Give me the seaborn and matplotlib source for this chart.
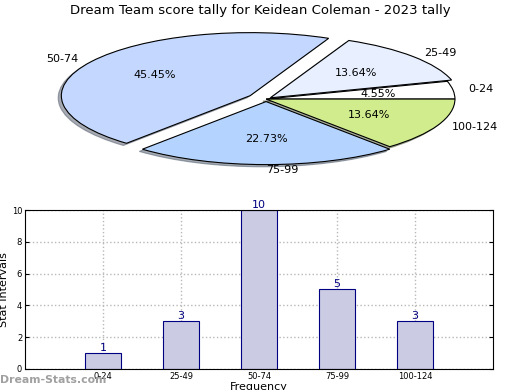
import seaborn as sns
import matplotlib
matplotlib.use("Agg")
import matplotlib.pyplot as plt

# score ranges and how many games fell in each
ranges = ["0-24", "25-49", "50-74", "75-99", "100-124"]
counts = [1, 3, 10, 5, 3]
pie_colors = ["#ffffff", "#e8f0ff", "#c4d8ff", "#b4d4ff", "#d0ec8c"]
explode = [0.0, 0.03, 0.1, 0.04, 0.0]

title = "Dream Team score tally for Keidean Coleman - 2023 tally"

sns.set_style("white")
plt.rcParams.update({
    "text.color": "black",
    "axes.labelcolor": "black",
    "xtick.color": "black",
    "ytick.color": "black",
})
fig = plt.figure(figsize=(5.2, 3.9), dpi=100)

# pie squashed into an ellipse
pie_ax = fig.add_axes([0.0577, 0.544, 0.908, 0.404])
pie_ax.pie(
    counts,
    labels=ranges,
    colors=pie_colors,
    explode=explode,
    autopct="%.2f%%",
    startangle=0,
    counterclock=True,
    labeldistance=1.08,
    shadow={"ox": -0.012, "oy": -0.025, "shade": 0.6},
    wedgeprops={"edgecolor": "black", "linewidth": 0.8},
    textprops={"fontsize": 8},
)
pie_ax.set_aspect("auto")
pie_ax.set_xlim(-1.25, 1.25)
pie_ax.set_ylim(-1.25, 1.25)
fig.text(0.5, 0.972, title, ha="center", va="center", fontsize=9.5)

# frequency bars
bar_ax = fig.add_axes([0.048, 0.054, 0.9, 0.4075])
sns.barplot(x=ranges, y=counts, ax=bar_ax, color="#cbcbe4",
            edgecolor="#000080", linewidth=0.8, width=0.46, saturation=1)
for i, c in enumerate(counts):
    bar_ax.text(i, c, str(c), ha="center", va="bottom", color="#000080", fontsize=8)
bar_ax.set_xlim(-1, 5)
bar_ax.set_ylim(0, 10)
bar_ax.set_yticks([0, 2, 4, 6, 8, 10])
bar_ax.grid(True, linestyle=":", color="#b8b8b8", linewidth=1)
bar_ax.set_axisbelow(True)
bar_ax.tick_params(axis="both", labelsize=6, direction="in", length=3,
                   right=True, top=False, left=True, bottom=True, pad=2)
for s in bar_ax.spines.values():
    s.set_color("black")
    s.set_linewidth(0.8)
bar_ax.set_ylabel("Stat Intervals", fontsize=8, labelpad=2)
bar_ax.set_xlabel("Frequency", fontsize=8, labelpad=1)

fig.text(0.0, 0.025, "Dream-Stats.com", fontsize=7.8, color="#a0a0a0",
         fontweight="bold", ha="left", va="center")

fig.savefig("out.png", dpi=100)
